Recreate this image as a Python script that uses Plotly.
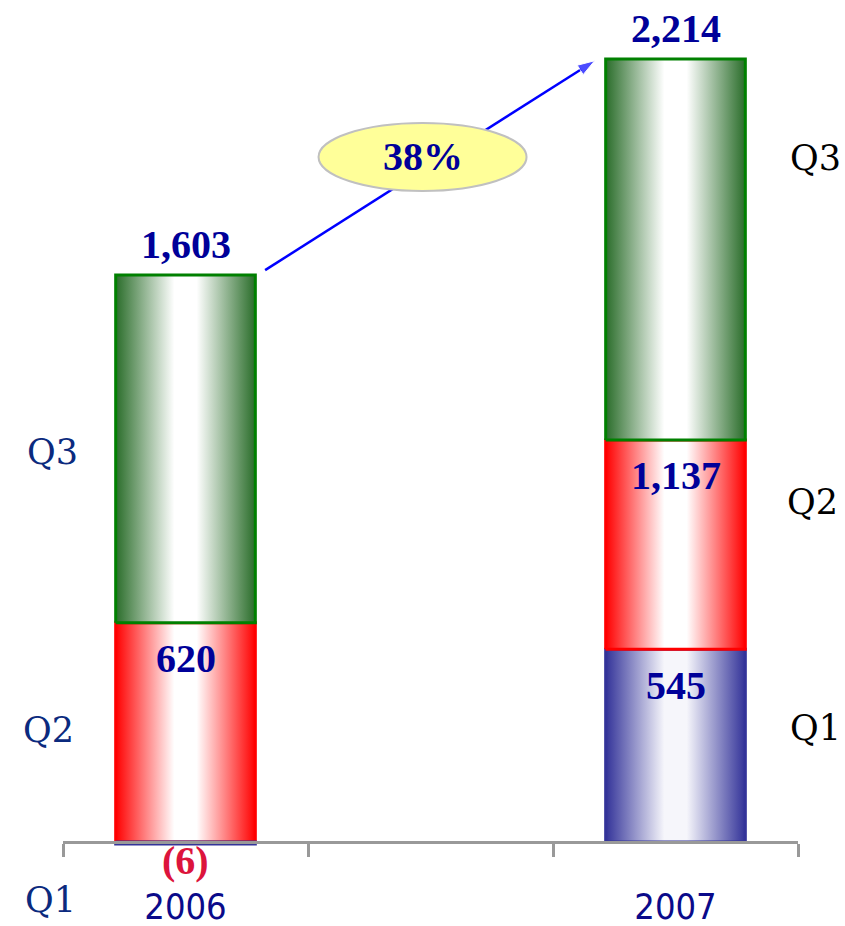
import plotly.graph_objects as go

# ---- data -------------------------------------------------------------
years = ["2006", "2007"]
quarters = ["Q1", "Q2", "Q3"]
# cumulative result at the end of each quarter
cum_2006 = [-6, 620, 1603]
cum_2007 = [545, 1137, 2214]

# ---- styling ----------------------------------------------------------
edge_fill = {"Q1": "#333399", "Q2": "#ff0000", "Q3": "#2a6d2a"}
mid_fill = {"Q1": "#f6f6fb", "Q2": "#ffffff", "Q3": "#ffffff"}
border = {"Q1": "#333399", "Q2": "#ff0000", "Q3": "#008000"}
LABEL_BLUE = "#000099"
NEG_RED = "#dc143c"
SERIF = "Liberation Serif, Times New Roman, serif"
CAPTION_SERIF = "DejaVu Serif, Liberation Serif, serif"
NARROW = "Liberation Sans Narrow, Arial Narrow, DejaVu Sans Condensed, sans-serif"

# plot geometry (pixels)
W, H = 845, 926
ML, MR, MT, MB = 63, 47, 10, 74
PW, PH = W - ML - MR, H - MT - MB
Y_RANGE = [-28.3, 2352.6]
X_RANGE = [-0.5, 2.5]
BAR_W = 0.57

positions = {"2006": 0, "2007": 2}
series = {"2006": cum_2006, "2007": cum_2007}


def fmt(v):
    s = f"{abs(v):,}"
    return f"({s})" if v < 0 else s


fig = go.Figure()

# stacked segments with a horizontal light-in-the-middle gradient;
# Q1 is drawn last so a thin negative first quarter stays visible
for yr in years:
    c = series[yr]
    x0 = positions[yr] - BAR_W / 2
    x1 = positions[yr] + BAR_W / 2
    bounds = {"Q1": (0, c[0]), "Q2": (max(c[0], 0), c[1]), "Q3": (c[1], c[2])}
    order = ["Q2", "Q3", "Q1"] if c[0] < 0 else quarters
    for q in order:
        lo, hi = bounds[q]
        fig.add_trace(go.Scatter(
            x=[x0, x1, x1, x0, x0],
            y=[lo, lo, hi, hi, lo],
            mode="lines",
            fill="toself",
            fillgradient=dict(
                type="horizontal",
                colorscale=[[0, edge_fill[q]], [0.42, mid_fill[q]],
                            [0.58, mid_fill[q]], [1, edge_fill[q]]],
            ),
            line=dict(color=border[q], width=3),
            hoverinfo="skip",
            showlegend=False,
        ))

# growth arrow between the two totals
t0, t1 = cum_2006[-1], cum_2007[-1]
ax0, ay0 = positions["2006"] + BAR_W / 2 + 0.04, t0 + 14
ax1, ay1 = positions["2007"] - BAR_W / 2 - 0.045, t1 - 5
fig.add_trace(go.Scatter(
    x=[ax0, ax1], y=[ay0, ay1],
    mode="lines+markers",
    line=dict(color="#0000ff", width=2.5),
    marker=dict(symbol=["circle", "arrow"], size=[0, 18],
                angleref="previous", color="#0000ff"),
    hoverinfo="skip", showlegend=False, cliponaxis=False,
))

growth = t1 / t0 - 1
mx, my = (ax0 + ax1) / 2 - 0.03, (ay0 + ay1) / 2 + 24
shapes = [dict(
    type="circle", xref="x", yref="y",
    xsizemode="pixel", ysizemode="pixel",
    xanchor=mx, yanchor=my,
    x0=-104, x1=104, y0=-34, y1=34,
    fillcolor="#ffff99", line=dict(color="#c0c0c0", width=2),
    layer="above",
)]

annotations = [dict(
    x=mx, y=my, xref="x", yref="y",
    text=f"{growth:.0%}", showarrow=False,
    font=dict(family=SERIF, size=40, color=LABEL_BLUE, weight="bold"),
)]

# value labels
for yr in years:
    c = series[yr]
    xp = positions[yr]
    # totals above the bars
    annotations.append(dict(
        x=xp, y=c[2], xref="x", yref="y", text=fmt(c[2]), showarrow=False,
        yanchor="middle", yshift=31,
        font=dict(family=SERIF, size=40, color=LABEL_BLUE, weight="bold")))
    # half-year result inside the Q2 segment
    annotations.append(dict(
        x=xp, y=c[1], xref="x", yref="y", text=fmt(c[1]), showarrow=False,
        yanchor="middle", yshift=-36,
        font=dict(family=SERIF, size=40, color=LABEL_BLUE, weight="bold")))
    # first quarter
    if c[0] < 0:
        annotations.append(dict(
            x=xp, y=c[0], xref="x", yref="y", text=fmt(c[0]), showarrow=False,
            yanchor="middle", yshift=-16,
            font=dict(family=SERIF, size=40, color=NEG_RED, weight="bold")))
    else:
        annotations.append(dict(
            x=xp, y=c[0], xref="x", yref="y", text=fmt(c[0]), showarrow=False,
            yanchor="middle", yshift=-36,
            font=dict(family=SERIF, size=40, color=LABEL_BLUE, weight="bold")))


def px_to_paper(px, py):
    return (px - ML) / PW, (H - MB - py) / PH


# quarter captions on both sides
left_q = [("Q3", 52, 452), ("Q2", 48, 730), ("Q1", 50, 900)]
right_q = [("Q3", 815, 158), ("Q2", 812, 502), ("Q1", 815, 728)]
for txt, px, py in left_q:
    xx, yy = px_to_paper(px, py)
    annotations.append(dict(
        x=xx, y=yy, xref="paper", yref="paper", text=txt, showarrow=False,
        xanchor="center", yanchor="middle",
        font=dict(family=CAPTION_SERIF, size=35, color="#0b2a7e")))
for txt, px, py in right_q:
    xx, yy = px_to_paper(px, py)
    annotations.append(dict(
        x=xx, y=yy, xref="paper", yref="paper", text=txt, showarrow=False,
        xanchor="center", yanchor="middle",
        font=dict(family=CAPTION_SERIF, size=35, color="#000000")))

zero_pos = (0 - Y_RANGE[0]) / (Y_RANGE[1] - Y_RANGE[0])

fig.update_layout(
    width=W, height=H,
    margin=dict(l=ML, r=MR, t=MT, b=MB, autoexpand=False),
    paper_bgcolor="white", plot_bgcolor="white",
    shapes=shapes, annotations=annotations,
    xaxis=dict(
        range=X_RANGE, anchor="free", position=zero_pos, automargin=False,
        tickmode="array", tickvals=[positions[y] for y in years], ticktext=years,
        ticks="", showgrid=False, zeroline=False,
        showline=True, linecolor="#999999", linewidth=3,
        ticklabelstandoff=32,
        tickfont=dict(family=NARROW, size=36, color="#0a0a8a"),
        minor=dict(tickmode="array", tickvals=[-0.5, 0.5, 1.5, 2.5],
                   ticks="outside", ticklen=13, tickwidth=3, tickcolor="#999999",
                   showgrid=False),
    ),
    yaxis=dict(
        range=Y_RANGE, showgrid=False, zeroline=False, showline=False,
        showticklabels=False, ticks="", automargin=False,
    ),
)

fig.write_html("out.html")
